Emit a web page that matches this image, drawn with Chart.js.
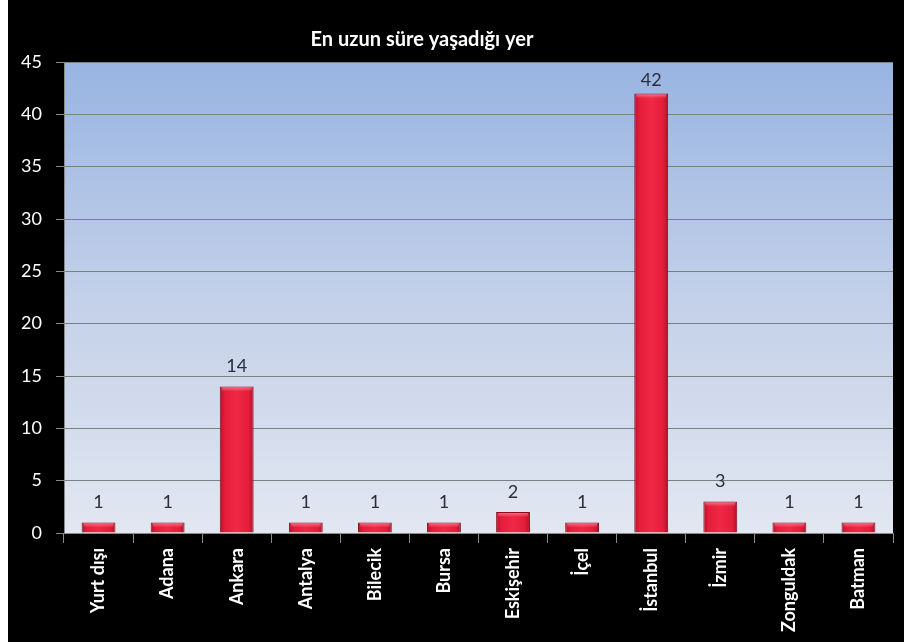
<!DOCTYPE html>
<html>
<head>
<meta charset="utf-8">
<script src="https://cdn.jsdelivr.net/npm/chart.js@4.4.1/dist/chart.umd.min.js"></script>
<style>
  html, body { margin: 0; padding: 0; background: #fff; }
  #wrap { position: absolute; left: 8px; top: 0; width: 896px; height: 642px; background: #000; }
</style>
</head>
<body>
<div id="wrap"><canvas id="placesChart"></canvas></div>
<script>
const chartTitle = 'En uzun süre yaşadığı yer';
const places = ['Yurt dışı', 'Adana', 'Ankara', 'Antalya', 'Bilecik', 'Bursa', 'Eskişehir', 'İçel', 'İstanbul', 'İzmir', 'Zonguldak', 'Batman'];
const counts = [1, 1, 14, 1, 1, 1, 2, 1, 42, 3, 1, 1];
const yMax = 45;
const yStep = 5;

const barShare = 0.49;

// blue-to-pale fill behind the bars, plus the title
const plotBackground = {
  id: 'plotBackground',
  beforeDraw(chart) {
    const { ctx, chartArea: a } = chart;
    if (!a) return;
    const g = ctx.createLinearGradient(0, a.top, 0, a.bottom);
    g.addColorStop(0, '#98b4e2');
    g.addColorStop(0.5, '#c3d0e8');
    g.addColorStop(1, '#e2e7f1');
    ctx.save();
    ctx.fillStyle = g;
    ctx.fillRect(a.left, a.top, a.right - a.left, a.bottom - a.top);
    ctx.restore();
  },
  afterDraw(chart) {
    const ctx = chart.ctx;
    ctx.save();
    ctx.fillStyle = '#ffffff';
    ctx.font = 'bold 20px Lato';
    ctx.textAlign = 'center';
    ctx.textBaseline = 'middle';
    ctx.fillText(chartTitle, 414, 40);
    ctx.restore();
  }
};

// value printed above each bar, with a light bevel on the bar tops
const valueLabels = {
  id: 'valueLabels',
  afterDatasetsDraw(chart) {
    const ctx = chart.ctx;
    const meta = chart.getDatasetMeta(0);
    ctx.save();
    meta.data.forEach((bar) => {
      const left = bar.x - bar.width / 2;
      const hl = ctx.createLinearGradient(0, bar.y, 0, bar.y + 5);
      hl.addColorStop(0, 'rgba(255,150,165,0.75)');
      hl.addColorStop(1, 'rgba(255,150,165,0)');
      ctx.fillStyle = hl;
      ctx.fillRect(left + 2, bar.y + 1, bar.width - 4, 5);
    });
    ctx.fillStyle = '#2b2d3a';
    ctx.font = '18px Lato';
    ctx.textAlign = 'center';
    ctx.textBaseline = 'middle';
    meta.data.forEach((bar, i) => {
      const y = Math.max(bar.y - 20, chart.chartArea.top + 18);
      ctx.fillText(counts[i], bar.x, y);
    });
    ctx.restore();
  }
};

function barFill(context) {
  const chart = context.chart;
  const xs = chart.scales.x;
  if (!chart.chartArea || !xs) return '#e4203c';
  const cx = xs.getPixelForValue(context.dataIndex);
  const half = xs.width / places.length * barShare / 2;
  const g = chart.ctx.createLinearGradient(cx - half, 0, cx + half, 0);
  g.addColorStop(0, '#b8112c');
  g.addColorStop(0.15, '#e41d3b');
  g.addColorStop(0.5, '#f02845');
  g.addColorStop(0.85, '#e41d3b');
  g.addColorStop(1, '#b0102a');
  return g;
}

new Chart(document.getElementById('placesChart'), {
  type: 'bar',
  data: {
    labels: places,
    datasets: [{
      data: counts,
      backgroundColor: barFill,
      borderColor: '#8c0c1e',
      borderWidth: 1,
      barPercentage: barShare,
      categoryPercentage: 1
    }]
  },
  options: {
    responsive: true,
    maintainAspectRatio: false,
    animation: false,
    layout: { padding: { top: 62, right: 11, left: 0, bottom: 0 } },
    plugins: {
      legend: { display: false },
      title: { display: false },
      tooltip: { enabled: false }
    },
    scales: {
      x: {
        afterFit(axis) { axis.height = 109; },
        grid: { drawOnChartArea: false, drawTicks: true, tickLength: 10, tickColor: '#8a8a8a', offset: true },
        border: { color: '#8a8a8a' },
        ticks: {
          color: '#ffffff',
          font: { family: 'Lato', size: 18, weight: 'bold' },
          minRotation: 90,
          maxRotation: 90,
          padding: 5
        }
      },
      y: {
        min: 0,
        max: yMax,
        afterFit(axis) { axis.width = 56; },
        grid: { color: '#7d7f85', lineWidth: 1, tickLength: 8, tickColor: '#8a8a8a' },
        border: { color: '#8a8a8a' },
        ticks: {
          stepSize: yStep,
          color: '#ffffff',
          font: { family: 'Lato', size: 18 },
          padding: 14
        }
      }
    }
  },
  plugins: [plotBackground, valueLabels]
});
</script>
</body>
</html>
